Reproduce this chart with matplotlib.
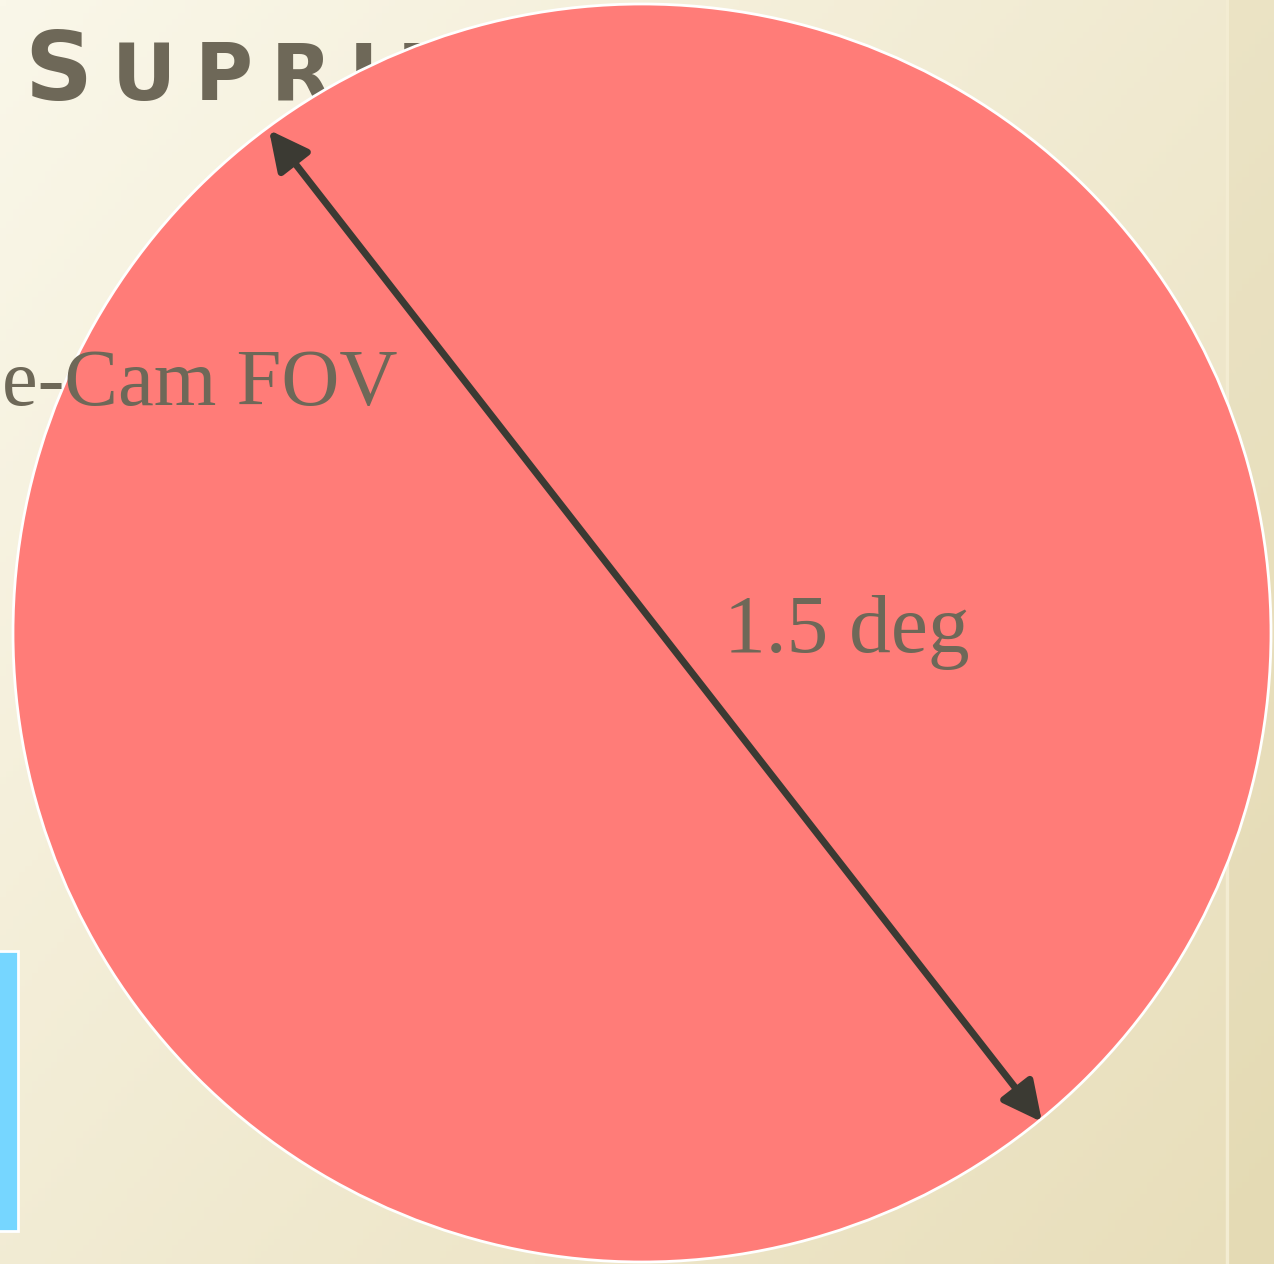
import matplotlib.pyplot as plt
import numpy as np
from matplotlib.patches import Circle, Rectangle

# Slide content
title_cap = "S"
title_rest = "UPRIME-CAM"
fov_label = "e-Cam FOV"
fov_deg = 1.5
size_label = "%.1f deg" % fov_deg

W, H = 1274, 1264
fig = plt.figure(figsize=(W / 100, H / 100), dpi=100)
ax = fig.add_axes([0, 0, 1, 1])
ax.set_xlim(0, W)
ax.set_ylim(H, 0)
ax.axis('off')
renderer = fig.canvas.get_renderer()

# beige slide background, lighter at top-left
yy, xx = np.mgrid[0:1:200j, 0:1:200j]
t = np.clip(0.55 * xx + 0.45 * yy, 0, 1)
c0 = np.array([250, 247, 233]) / 255.
c1 = np.array([232, 222, 186]) / 255.
bg = c0[None, None, :] * (1 - t[..., None]) + c1[None, None, :] * t[..., None]
ax.imshow(bg, extent=[0, W, H, 0], zorder=0, aspect='auto')
ax.axvline(1227, color='#f3ecd2', lw=2.5, zorder=1)
ax.axvspan(1229, W, color='#d8cc9c', alpha=0.2, lw=0, zorder=1)

# title in small caps (behind the circle), letters spaced out
tcol = '#6e6858'
ax.text(24, 100, title_cap, fontsize=68, color=tcol, family='DejaVu Sans',
        weight='bold', va='baseline', ha='left', zorder=2)
x = 112
for ch in title_rest:
    txt = ax.text(x, 100, ch, fontsize=57, color=tcol, family='DejaVu Sans',
                  weight='bold', va='baseline', ha='left', zorder=2)
    x += txt.get_window_extent(renderer).width + 18

# blue box at left edge
ax.add_patch(Rectangle((-5, 951), 23, 280, facecolor='#76d6ff',
                       edgecolor='white', lw=2, zorder=2))

# field of view circle
cx, cy, r = 642, 633, 629
ax.add_patch(Circle((cx, cy), r, facecolor='#ff7c78', edgecolor='white',
                    lw=2, zorder=3))

# diameter arrow
ax.annotate('', xy=(269, 130), xytext=(1042, 1122),
            arrowprops=dict(arrowstyle='<|-|>,head_length=2.4,head_width=1.2',
                            color='#3b3a33', lw=5, shrinkA=0, shrinkB=0),
            zorder=4)

ax.text(2, 405, fov_label, fontsize=58, color=tcol, family='Liberation Serif',
        ha='left', va='baseline', zorder=5)
ax.text(724, 652, size_label, fontsize=60, color=tcol, family='Liberation Serif',
        ha='left', va='baseline', zorder=5)

fig.savefig('out.png', dpi=100)
